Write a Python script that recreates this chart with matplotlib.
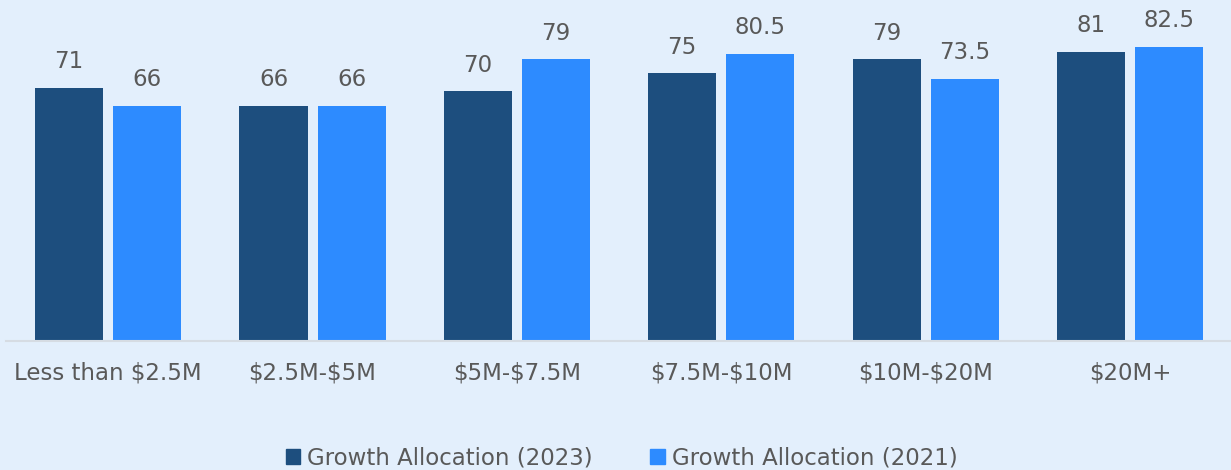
import matplotlib.pyplot as plt
import numpy as np
from matplotlib.patches import Patch

categories = ["Less than $2.5M", "$2.5M-$5M", "$5M-$7.5M", "$7.5M-$10M", "$10M-$20M", "$20M+"]
growth_2023 = [71, 66, 70, 75, 79, 81]
growth_2021 = [66, 66, 79, 80.5, 73.5, 82.5]
series_names = ["Growth Allocation (2023)", "Growth Allocation (2021)"]

bg = "#E3EFFC"
dark = "#1D4E7E"
light = "#2D8BFF"
text_col = "#595959"

plt.rcParams['font.family'] = ['DejaVu Sans']
plt.rcParams['text.parse_math'] = False

fig = plt.figure(figsize=(12.31, 4.70), dpi=100, facecolor=bg)
ax = fig.add_axes([0.0049, 0.2745, 0.996, 0.683], facecolor=bg)

x = np.arange(len(categories))
w = 0.333
off = 0.191
b1 = ax.bar(x - off, growth_2023, w, color=dark, zorder=2)
b2 = ax.bar(x + off, growth_2021, w, color=light, zorder=2)

for bars, vals in ((b1, growth_2023), (b2, growth_2021)):
    for rect, v in zip(bars, vals):
        label = f"{v:g}"
        ax.annotate(label, (rect.get_x() + rect.get_width() / 2, rect.get_height()),
                    xytext=(0, 10.5), textcoords="offset points",
                    ha="center", va="bottom", fontsize=16.5, color=text_col)

ax.set_xlim(-0.5, 5.5)
ax.set_ylim(0, 90)
ax.set_xticks(x)
ax.set_xticklabels(categories, fontsize=16.5, color=text_col)
ax.tick_params(axis="x", length=0, pad=15)
ax.set_yticks([])
for s in ("top", "right", "left"):
    ax.spines[s].set_visible(False)
ax.spines["bottom"].set_color("#D6DCE3")
ax.spines["bottom"].set_linewidth(1.5)

handles = [Patch(color=dark), Patch(color=light)]
fig.legend(handles, series_names, loc="center", bbox_to_anchor=(0.505, 0.025),
           ncol=2, frameon=False, fontsize=16.5, labelcolor=text_col,
           handlelength=0.65, handleheight=0.65, handletextpad=0.3, columnspacing=2.5)

fig.savefig("out.png", dpi=100, facecolor=bg)
